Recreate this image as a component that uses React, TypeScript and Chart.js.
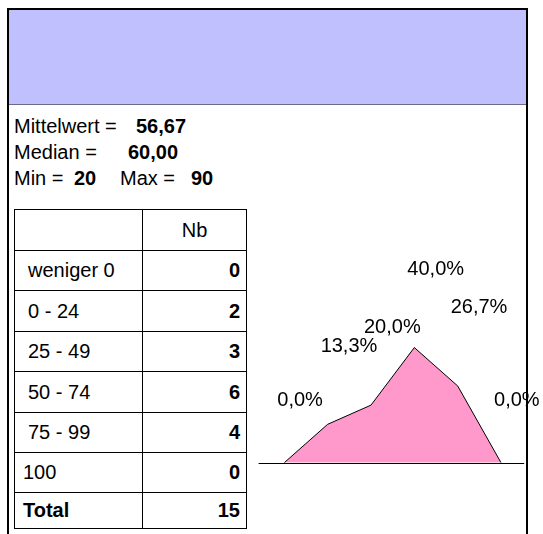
import React, { useEffect, useRef } from "react";
import { Chart, registerables } from "chart.js";

Chart.register(...registerables);

const categories = ["weniger 0", "0 - 24", "25 - 49", "50 - 74", "75 - 99", "100"];
const counts = [0, 2, 3, 6, 4, 0];
const totalCount = 15;
const meanText = "56,67";
const medianText = "60,00";
const minText = "20";
const maxText = "90";
const percents = counts.map((c) => (c / totalCount) * 100);

const FONT = '"Liberation Sans", Arial, Helvetica, sans-serif';
const FS = 20;

const rowTops = [209, 250, 290, 331, 371, 412, 452, 492, 529];

function AreaChart() {
  const ref = useRef<HTMLCanvasElement | null>(null);
  useEffect(() => {
    const canvas = ref.current;
    if (!canvas) return;
    const labelPlugin = {
      id: "pctLabels",
      afterDatasetsDraw(chart: any) {
        const ctx = chart.ctx;
        const y0 = chart.scales.y.getPixelForValue(0);
        ctx.save();
        ctx.strokeStyle = "#000";
        ctx.lineWidth = 1;
        ctx.beginPath();
        ctx.moveTo(chart.chartArea.left - 4, Math.round(y0) + 0.5);
        ctx.lineTo(chart.chartArea.right + 1.5, Math.round(y0) + 0.5);
        ctx.stroke();
        const meta = chart.getDatasetMeta(0);
        ctx.font = FS + "px " + FONT;
        ctx.fillStyle = "#000";
        ctx.textAlign = "left";
        ctx.textBaseline = "middle";
        meta.data.forEach((pt: any, i: number) => {
          const v = percents[i];
          const txt = v.toFixed(1).replace(".", ",") + "%";
          ctx.fillText(txt, pt.x - 7, pt.y - (v > 0 ? 78 : 62));
        });
        ctx.restore();
      },
    };
    const chart = new Chart(canvas, {
      type: "line",
      data: {
        labels: categories,
        datasets: [
          {
            data: percents,
            fill: "origin",
            backgroundColor: "#FF99CC",
            borderColor: "#000000",
            borderWidth: 1,
            pointRadius: 0,
            tension: 0,
          },
        ],
      },
      options: {
        responsive: false,
        maintainAspectRatio: false,
        animation: false,
        layout: { padding: { left: 12.6, right: 20.3, top: 40, bottom: 17.3 } },
        plugins: { legend: { display: false }, tooltip: { enabled: false }, title: { display: false } },
        scales: {
          x: { display: false, offset: true },
          y: { display: false, min: 0, max: 60 },
        },
      },
      plugins: [labelPlugin],
    });
    return () => chart.destroy();
  }, []);
  return (
    <canvas
      ref={ref}
      width={293}
      height={230}
      style={{ position: "absolute", left: 250, top: 250, width: 293, height: 230 }}
    />
  );
}

export default function App() {
  useEffect(() => {
    document.body.style.margin = "0";
  }, []);

  const text: React.CSSProperties = {
    position: "absolute",
    fontFamily: FONT,
    fontSize: FS,
    lineHeight: "22px",
    color: "#000",
    whiteSpace: "nowrap",
  };

  const tableRows = [
    { label: "", value: "Nb", header: true },
    ...categories.map((c, i) => ({ label: c, value: String(counts[i]), header: false })),
    { label: "Total", value: String(totalCount), header: false },
  ];

  return (
    <div
      style={{
        position: "relative",
        width: 543,
        height: 534,
        overflow: "hidden",
        background: "#fff",
      }}
    >
      <div
        style={{
          position: "absolute",
          left: 9,
          top: 10,
          width: 517,
          height: 94,
          background: "#C0C0FF",
          borderBottom: "1px solid #6a6a8a",
        }}
      />
      <div style={{ ...text, left: 14, top: 115 }}>Mittelwert =</div>
      <div style={{ ...text, left: 136, top: 115, fontWeight: "bold" }}>{meanText}</div>
      <div style={{ ...text, left: 14, top: 141 }}>Median =</div>
      <div style={{ ...text, left: 128, top: 141, fontWeight: "bold" }}>{medianText}</div>
      <div style={{ ...text, left: 14, top: 167 }}>Min =</div>
      <div style={{ ...text, left: 74, top: 167, fontWeight: "bold" }}>{minText}</div>
      <div style={{ ...text, left: 120, top: 167 }}>Max =</div>
      <div style={{ ...text, left: 191, top: 167, fontWeight: "bold" }}>{maxText}</div>

      {tableRows.map((r, i) => {
        const top = rowTops[i];
        const h = rowTops[i + 1] - rowTops[i];
        const isTotal = i === tableRows.length - 1;
        const pad = i >= 6 ? 8 : 13;
        return (
          <React.Fragment key={i}>
            <div
              style={{
                position: "absolute",
                left: 14,
                top,
                width: 129,
                height: h,
                boxSizing: "border-box",
                borderLeft: "1px solid #000",
                borderTop: "1px solid #000",
                borderBottom: isTotal ? "1px solid #000" : "none",
                borderRight: "1px solid #000",
                display: "flex",
                alignItems: "center",
                paddingLeft: pad,
                fontFamily: FONT,
                fontSize: FS,
                fontWeight: isTotal ? "bold" : "normal",
              }}
            >
              {r.label}
            </div>
            <div
              style={{
                position: "absolute",
                left: 143,
                top,
                width: 104,
                height: h,
                boxSizing: "border-box",
                borderTop: "1px solid #000",
                borderBottom: isTotal ? "1px solid #000" : "none",
                borderRight: "1px solid #000",
                display: "flex",
                alignItems: "center",
                justifyContent: r.header ? "center" : "flex-end",
                paddingRight: r.header ? 0 : 6,
                fontFamily: FONT,
                fontSize: FS,
                fontWeight: r.header ? "normal" : "bold",
              }}
            >
              {r.value}
            </div>
          </React.Fragment>
        );
      })}

      <AreaChart />

      <div
        style={{
          position: "absolute",
          left: 7,
          top: 8,
          width: 521,
          height: 560,
          boxSizing: "border-box",
          borderLeft: "2px solid #000",
          borderTop: "2px solid #000",
          borderRight: "2px solid #000",
          pointerEvents: "none",
        }}
      />
    </div>
  );
}
